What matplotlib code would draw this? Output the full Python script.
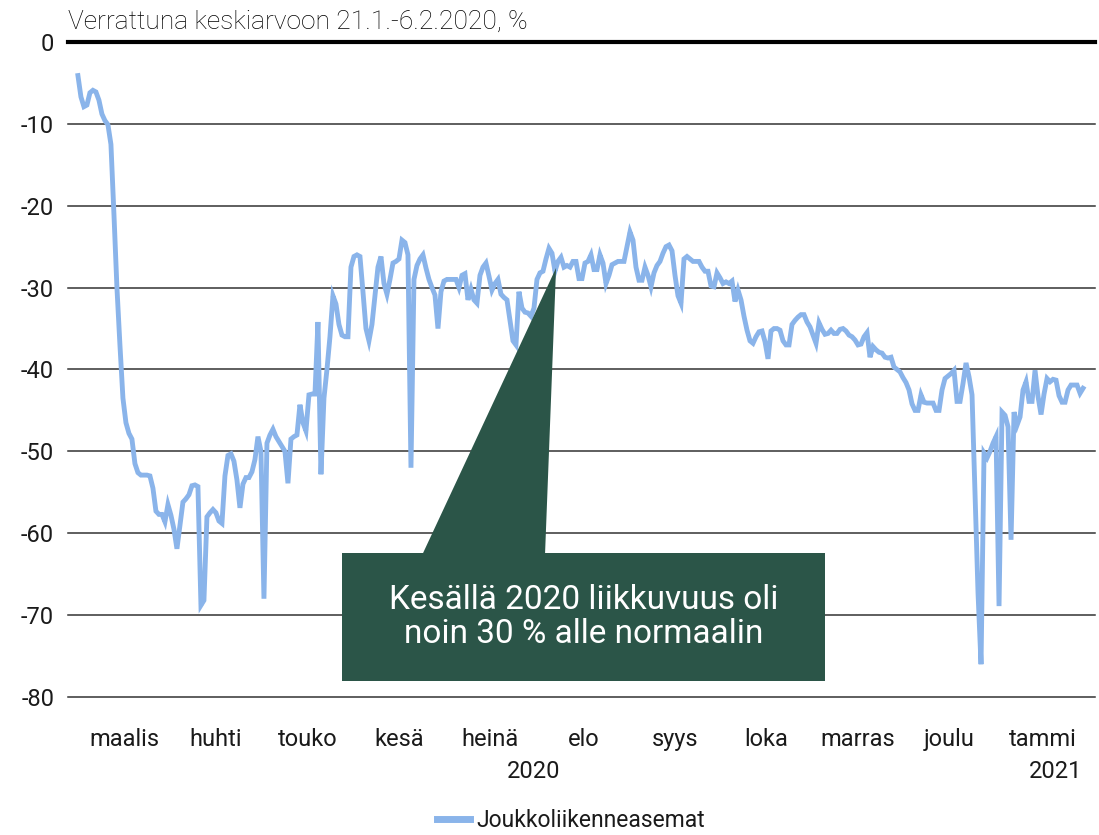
import matplotlib
matplotlib.use("Agg")
import matplotlib.pyplot as plt
import matplotlib.dates as mdates
import matplotlib.transforms as mtransforms
from matplotlib.patches import Rectangle, Polygon
import pandas as pd

plt.rcParams['font.family'] = ['Roboto', 'DejaVu Sans']
plt.rcParams['axes.unicode_minus'] = False

# daily values, % vs 21.1.-6.2.2020 average, one list per month
mar = [-4.1, -6.7, -7.9, -7.7, -6.2, -5.9, -6.1, -7.1, -8.8, -9.6, -10.1, -12.5, -21, -30, -37, -43.5,
       -46.5, -47.8, -48.5, -51.5, -52.6, -52.9, -52.9, -52.9, -53, -54.5, -57.3, -57.7, -57.7, -58.6, -56.5]
apr = [-57.8, -59.5, -61.9, -59, -56.2, -55.8, -55.3, -54.2, -54.1, -54.3, -68.8, -68.2, -58, -57.5, -57.1,
       -57.5, -58.5, -58.8, -53, -50.5, -50.3, -51.2, -53.5, -56.9, -54, -53.2, -53.2, -52.5, -51, -48.2]
may = [-50, -68, -49, -48, -47.3, -48.2, -48.8, -49.4, -50, -53.9, -48.5, -48.2, -48, -44.3, -46.5, -47.5,
       -43.1, -43, -43, -34.2, -52.8, -43.5, -40, -36, -31, -32, -34.5, -35.8, -36, -36, -27.5]
jun = [-26.2, -26, -26.2, -30.5, -35, -36.5, -34.5, -31, -27.5, -26.2, -29.5, -30.8, -29, -27, -26.8,
       -26.5, -24.2, -24.5, -26, -52, -29, -27.3, -26.5, -26, -27.6, -29, -30, -30.9, -35, -30.5]
jul = [-29.2, -29, -29, -29, -29, -30, -28.5, -28.3, -31.5, -30.2, -31.5, -31.9, -28.5, -27.5, -27, -28.6,
       -30.3, -29.5, -29, -30.8, -31.2, -31.5, -34, -36.5, -37, -30.5, -32.5, -33, -33.1, -33.5, -32.5]
aug = [-29, -28.2, -28, -26.5, -25.2, -25.8, -28, -26.8, -26.3, -27.5, -27.3, -27.5, -26.8, -26.8, -28.9,
       -28.9, -27, -26.8, -26, -27.8, -27.8, -26, -27, -29.5, -28.5, -27.2, -27, -26.8, -26.8, -26.8, -25]
sep = [-23.2, -24.2, -27.5, -29.1, -29.1, -27.5, -28.5, -29.9, -28.2, -27.3, -26.8, -25.8, -25, -24.8,
       -25.5, -28.5, -31, -31.9, -26.5, -26.2, -26.5, -26.8, -26.8, -26.8, -27.5, -28, -28, -29.8, -29.9, -28.2]
oct_ = [-28.8, -29.5, -29.3, -29.5, -29.2, -31.7, -30.3, -31.5, -33.5, -35.2, -36.5, -36.8, -36, -35.4,
        -35.3, -36.6, -38.7, -35.3, -35, -35, -35.2, -36.5, -37, -37, -34.5, -34, -33.6, -33.3, -33.3, -34.2, -34.8]
nov = [-35.8, -36.8, -34.3, -35.1, -35.7, -35.6, -35.2, -35.6, -35.6, -35.1, -35, -35.3, -35.8, -36, -36.4,
       -37, -36.9, -36, -35.5, -38.5, -37.2, -37.6, -37.9, -38, -38.5, -38.6, -38.5, -39.7, -40, -40.3]
dec = [-41, -41.6, -42.5, -44.2, -45, -45, -43.1, -44, -44.1, -44.1, -44.1, -45, -45, -42.5, -41.1, -40.8,
       -40.5, -40.1, -43.9, -43.9, -41.7, -39.2, -40.9, -43.1, -55, -67.3, -76, -50.2, -50.8, -50, -49]
jan = [-48.2, -68.9, -45.2, -45.6, -47, -60.8, -45.2, -46.8, -45.8, -42.5, -41.5, -43.9, -43.9, -40.1,
       -43.3, -45.5, -43, -41.1, -41.5, -41.2, -41.3, -43.2, -44, -44, -42.5, -41.9, -41.9, -41.9, -42.9, -42.3]

months = ['maalis', 'huhti', 'touko', 'kesä', 'heinä', 'elo', 'syys', 'loka', 'marras', 'joulu', 'tammi']
years = ['2020', '2021']
series_name = 'Joukkoliikenneasemat'
title = 'Verrattuna keskiarvoon 21.1.-6.2.2020, %'
note = 'Kesällä 2020 liikkuvuus oli\nnoin 30 % alle normaalin'

values = mar + apr + may + jun + jul + aug + sep + oct_ + nov + dec + jan
dates = pd.date_range('2020-03-01', periods=len(values), freq='D')

line_color = '#8ab4ea'
box_color = '#2b5548'
text_color = '#1a1a1a'
fs = 17

fig = plt.figure(figsize=(10.99, 8.35), dpi=100)
ax = fig.add_axes([0.0619, 0.1653, 0.9345, 0.7844])

ax.plot(dates, values, color=line_color, lw=3.5, label=series_name, zorder=3,
        solid_joinstyle='miter')

ax.set_ylim(-80, 0)
ax.set_yticks(range(-80, 1, 10))
for v in range(-80, 0, 10):
    ax.axhline(v, color='#333333', lw=1.1, zorder=1, clip_on=False)
ax.axhline(0, color='black', lw=3.0, zorder=4, clip_on=False)

x0 = mdates.date2num(pd.Timestamp('2020-03-01'))
ax.set_xlim(x0 - 3.3, x0 + 339)

# month labels centred on each month
starts = pd.date_range('2020-03-01', periods=len(months) + 1, freq='MS')
mids = [mdates.date2num(a) + (b - a).days / 2 for a, b in zip(starts[:-1], starts[1:])]
ax.set_xticks(mids)
ax.set_xticklabels(months)
ax.tick_params(axis='x', length=0, pad=22, labelsize=fs, colors=text_color)
ax.tick_params(axis='y', length=0, pad=10, labelsize=fs, colors=text_color)

trans = mtransforms.blended_transform_factory(ax.transData, ax.transAxes)
ax.text(mdates.date2num(pd.Timestamp('2020-07-31')), -0.1145, years[0], transform=trans,
        ha='center', va='center', fontsize=fs, color=text_color)
ax.text(mdates.date2num(pd.Timestamp('2021-01-21')), -0.1145, years[1], transform=trans,
        ha='center', va='center', fontsize=fs, color=text_color)

for s in ax.spines.values():
    s.set_visible(False)

fig.text(0.0619, 1 - 22 / 835, title, ha='left', va='center', fontsize=19,
         fontweight='light', color='black')

# callout box
ax.add_patch(Rectangle((0.2668, 0.0244), 0.4703, 0.1954, transform=ax.transAxes,
                       facecolor=box_color, edgecolor='none', zorder=5))
ax.add_patch(Polygon([(0.3457, 0.2198), (0.4645, 0.2198), (0.4752, 0.655)], closed=True,
                     transform=ax.transAxes, facecolor=box_color, edgecolor='none', zorder=5))
ax.text(0.502, 0.122, note, transform=ax.transAxes, ha='center', va='center',
        fontsize=24, color='white', linespacing=1.1, zorder=6)

leg = ax.legend(loc='center', bbox_to_anchor=(0.49, -0.188), frameon=False, fontsize=16.5,
                handlelength=1.4, handletextpad=0.3, borderpad=0.1)
for h in leg.get_lines():
    h.set_linewidth(5)
for t in leg.get_texts():
    t.set_color(text_color)

fig.savefig('out.png', dpi=100)
